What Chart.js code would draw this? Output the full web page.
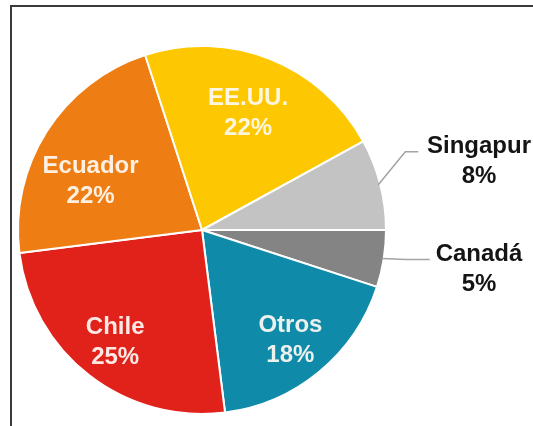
<!DOCTYPE html>
<html>
<head>
<meta charset="utf-8">
<script src="https://cdn.jsdelivr.net/npm/chart.js@4/dist/chart.umd.min.js"></script>
<style>
  html, body { margin: 0; padding: 0; background: #fff; }
  #wrap { width: 533px; height: 426px; position: relative; }
</style>
</head>
<body>
<div id="wrap"><canvas id="c" width="533" height="426"></canvas></div>
<script>
// Participación por destino (%), en orden horario desde las 3 en punto
const paises = ['Canadá', 'Otros', 'Chile', 'Ecuador', 'EE.UU.', 'Singapur'];
const participacion = [5, 18, 25, 22, 22, 8];
const colores = ['#848484', '#0f8aa8', '#e1221b', '#ee7e13', '#fdc801', '#c3c3c3'];
// Porciones pequeñas que llevan la etiqueta fuera, con línea guía
const etiquetasExternas = ['Canadá', 'Singapur'];

// Colocación de etiquetas internas: fracción del radio y giro (grados)
const colocacionInterna = {
  'Otros':   { r: 0.77, giro: 1 },
  'Chile':   { r: 0.77, giro: 0 },
  'Ecuador': { r: 0.66, giro: -9 },
  'EE.UU.':  { r: 0.68, giro: 0 }
};
// Línea guía de etiquetas externas: codo (desde el borde) y tramo horizontal
const codoGuia = {
  'Singapur': { dx: 27, dy: -33, largo: 13 },
  'Canadá':   { dx: 24, dy: 1, largo: 24 }
};

const FUENTE = '"Liberation Sans", Arial, sans-serif';

const marco = {
  id: 'marco',
  beforeDraw(chart) {
    const ctx = chart.ctx;
    ctx.save();
    ctx.fillStyle = '#fff';
    ctx.fillRect(0, 0, chart.width, chart.height);
    ctx.strokeStyle = '#3a3a3a';
    ctx.lineWidth = 2;
    ctx.beginPath();
    ctx.moveTo(11, chart.height);
    ctx.lineTo(11, 6);
    ctx.lineTo(chart.width, 6);
    ctx.stroke();
    ctx.restore();
  }
};

const etiquetas = {
  id: 'etiquetas',
  afterDatasetsDraw(chart) {
    const ctx = chart.ctx;
    const meta = chart.getDatasetMeta(0);
    const columnaExterna = chart.chartArea.right + 92;
    ctx.save();
    ctx.textAlign = 'center';
    ctx.textBaseline = 'middle';
    meta.data.forEach((arc, i) => {
      const p = arc.getProps(['x', 'y', 'startAngle', 'endAngle', 'outerRadius'], true);
      const nombre = paises[i];
      const texto = participacion[i] + '%';
      const medio = (p.startAngle + p.endAngle) / 2;
      if (etiquetasExternas.includes(nombre)) {
        const ex = p.x + Math.cos(medio) * (p.outerRadius - 2);
        const ey = p.y + Math.sin(medio) * (p.outerRadius - 2);
        const c = codoGuia[nombre];
        const cx = ex + c.dx, cy = ey + c.dy;
        const fx = cx + c.largo;
        ctx.strokeStyle = '#a3a3a3';
        ctx.lineWidth = 1.5;
        ctx.beginPath();
        ctx.moveTo(ex, ey);
        ctx.lineTo(cx, cy);
        ctx.lineTo(fx, cy);
        ctx.stroke();
        ctx.fillStyle = '#141414';
        ctx.font = 'bold 24px ' + FUENTE;
        ctx.fillText(nombre, columnaExterna, cy - 5);
        ctx.fillText(texto, columnaExterna, cy + 25);
      } else {
        const k = colocacionInterna[nombre];
        const ang = medio + k.giro * Math.PI / 180;
        const d = p.outerRadius * k.r;
        const tx = p.x + Math.cos(ang) * d;
        const ty = p.y + Math.sin(ang) * d;
        ctx.fillStyle = 'rgba(255, 250, 244, 0.92)';
        ctx.font = 'bold 24px ' + FUENTE;
        ctx.fillText(nombre, tx, ty - 15);
        ctx.fillText(texto, tx, ty + 15);
      }
    });
    ctx.restore();
  }
};

new Chart(document.getElementById('c'), {
  type: 'pie',
  data: {
    labels: paises,
    datasets: [{
      data: participacion,
      backgroundColor: colores,
      borderColor: '#ffffff',
      borderWidth: 2
    }]
  },
  options: {
    responsive: false,
    animation: false,
    rotation: 90,
    layout: { padding: { left: 17, right: 146, top: 45, bottom: 11 } },
    plugins: {
      legend: { display: false },
      tooltip: { enabled: false }
    }
  },
  plugins: [marco, etiquetas]
});
</script>
</body>
</html>
